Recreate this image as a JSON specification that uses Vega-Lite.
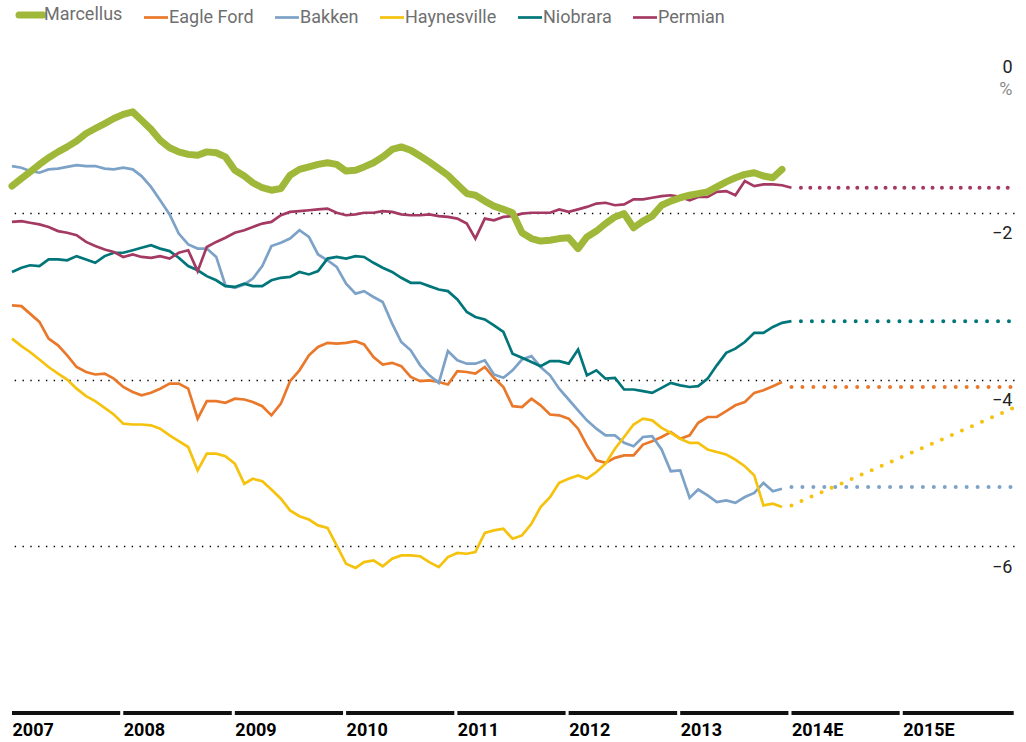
{
  "$schema": "https://vega.github.io/schema/vega-lite/v6.json",
  "width": 1002,
  "height": 667,
  "autosize": {"type": "none"},
  "padding": {"left": 12, "top": 46, "right": 12, "bottom": 29},
  "background": "white",
  "config": {
    "view": {"stroke": null},
    "font": "Roboto",
    "legend": {
      "orient": "none",
      "legendX": 10,
      "legendY": -40,
      "direction": "horizontal",
      "title": null,
      "padding": 0,
      "symbolType": "stroke",
      "symbolSize": 576,
      "labelFont": "Roboto",
      "labelFontSize": 18,
      "labelColor": "#6f6f6f",
      "labelOffset": 4,
      "columnPadding": 15
    }
  },
  "datasets": {
    "years": [
      {"start": "2007-01-01", "end": "2007-12-22"},
      {"start": "2008-01-01", "end": "2008-12-22"},
      {"start": "2009-01-01", "end": "2009-12-22"},
      {"start": "2010-01-01", "end": "2010-12-22"},
      {"start": "2011-01-01", "end": "2011-12-22"},
      {"start": "2012-01-01", "end": "2012-12-22"},
      {"start": "2013-01-01", "end": "2013-12-22"},
      {"start": "2014-01-01", "end": "2014-12-22"},
      {"start": "2015-01-01", "end": "2015-12-31"}
    ],
    "proj": [
      {"series": "Eagle Ford", "date": "2014-01-01", "value": -4.09},
      {"series": "Eagle Ford", "date": "2015-12-31", "value": -4.09},
      {"series": "Bakken", "date": "2014-01-01", "value": -5.29},
      {"series": "Bakken", "date": "2015-12-31", "value": -5.29},
      {"series": "Haynesville", "date": "2014-01-01", "value": -5.51},
      {"series": "Haynesville", "date": "2015-12-31", "value": -4.34},
      {"series": "Niobrara", "date": "2014-02-01", "value": -3.30},
      {"series": "Niobrara", "date": "2015-12-31", "value": -3.30},
      {"series": "Permian", "date": "2014-02-01", "value": -1.70},
      {"series": "Permian", "date": "2015-12-31", "value": -1.70}
    ],
    "main": [
      {"date": "2007-01-01", "Marcellus": -1.68, "Eagle Ford": -3.11, "Bakken": -1.44, "Haynesville": -3.51, "Niobrara": -2.71, "Permian": -2.11},
      {"date": "2007-02-01", "Marcellus": -1.59, "Eagle Ford": -3.12, "Bakken": -1.46, "Haynesville": -3.60, "Niobrara": -2.66, "Permian": -2.10},
      {"date": "2007-03-01", "Marcellus": -1.51, "Eagle Ford": -3.21, "Bakken": -1.50, "Haynesville": -3.67, "Niobrara": -2.63, "Permian": -2.12},
      {"date": "2007-04-01", "Marcellus": -1.42, "Eagle Ford": -3.31, "Bakken": -1.52, "Haynesville": -3.76, "Niobrara": -2.64, "Permian": -2.14},
      {"date": "2007-05-01", "Marcellus": -1.34, "Eagle Ford": -3.51, "Bakken": -1.48, "Haynesville": -3.85, "Niobrara": -2.56, "Permian": -2.17},
      {"date": "2007-06-01", "Marcellus": -1.27, "Eagle Ford": -3.59, "Bakken": -1.47, "Haynesville": -3.93, "Niobrara": -2.56, "Permian": -2.22},
      {"date": "2007-07-01", "Marcellus": -1.21, "Eagle Ford": -3.71, "Bakken": -1.45, "Haynesville": -4.00, "Niobrara": -2.57, "Permian": -2.24},
      {"date": "2007-08-01", "Marcellus": -1.14, "Eagle Ford": -3.85, "Bakken": -1.43, "Haynesville": -4.11, "Niobrara": -2.52, "Permian": -2.27},
      {"date": "2007-09-01", "Marcellus": -1.05, "Eagle Ford": -3.91, "Bakken": -1.44, "Haynesville": -4.20, "Niobrara": -2.56, "Permian": -2.35},
      {"date": "2007-10-01", "Marcellus": -0.99, "Eagle Ford": -3.94, "Bakken": -1.44, "Haynesville": -4.26, "Niobrara": -2.60, "Permian": -2.40},
      {"date": "2007-11-01", "Marcellus": -0.93, "Eagle Ford": -3.93, "Bakken": -1.47, "Haynesville": -4.34, "Niobrara": -2.52, "Permian": -2.44},
      {"date": "2007-12-01", "Marcellus": -0.87, "Eagle Ford": -3.99, "Bakken": -1.48, "Haynesville": -4.42, "Niobrara": -2.48, "Permian": -2.47},
      {"date": "2008-01-01", "Marcellus": -0.82, "Eagle Ford": -4.09, "Bakken": -1.46, "Haynesville": -4.53, "Niobrara": -2.48, "Permian": -2.53},
      {"date": "2008-02-01", "Marcellus": -0.79, "Eagle Ford": -4.15, "Bakken": -1.48, "Haynesville": -4.54, "Niobrara": -2.45, "Permian": -2.50},
      {"date": "2008-03-01", "Marcellus": -0.89, "Eagle Ford": -4.19, "Bakken": -1.56, "Haynesville": -4.54, "Niobrara": -2.42, "Permian": -2.53},
      {"date": "2008-04-01", "Marcellus": -1.00, "Eagle Ford": -4.16, "Bakken": -1.69, "Haynesville": -4.55, "Niobrara": -2.39, "Permian": -2.54},
      {"date": "2008-05-01", "Marcellus": -1.13, "Eagle Ford": -4.11, "Bakken": -1.85, "Haynesville": -4.59, "Niobrara": -2.43, "Permian": -2.52},
      {"date": "2008-06-01", "Marcellus": -1.22, "Eagle Ford": -4.05, "Bakken": -2.02, "Haynesville": -4.67, "Niobrara": -2.46, "Permian": -2.55},
      {"date": "2008-07-01", "Marcellus": -1.27, "Eagle Ford": -4.05, "Bakken": -2.25, "Haynesville": -4.74, "Niobrara": -2.54, "Permian": -2.48},
      {"date": "2008-08-01", "Marcellus": -1.30, "Eagle Ford": -4.11, "Bakken": -2.38, "Haynesville": -4.81, "Niobrara": -2.64, "Permian": -2.45},
      {"date": "2008-09-01", "Marcellus": -1.31, "Eagle Ford": -4.47, "Bakken": -2.43, "Haynesville": -5.09, "Niobrara": -2.69, "Permian": -2.70},
      {"date": "2008-10-01", "Marcellus": -1.27, "Eagle Ford": -4.26, "Bakken": -2.43, "Haynesville": -4.89, "Niobrara": -2.76, "Permian": -2.41},
      {"date": "2008-11-01", "Marcellus": -1.28, "Eagle Ford": -4.26, "Bakken": -2.53, "Haynesville": -4.89, "Niobrara": -2.81, "Permian": -2.35},
      {"date": "2008-12-01", "Marcellus": -1.33, "Eagle Ford": -4.28, "Bakken": -2.87, "Haynesville": -4.92, "Niobrara": -2.88, "Permian": -2.30},
      {"date": "2009-01-01", "Marcellus": -1.49, "Eagle Ford": -4.23, "Bakken": -2.90, "Haynesville": -5.01, "Niobrara": -2.89, "Permian": -2.24},
      {"date": "2009-02-01", "Marcellus": -1.56, "Eagle Ford": -4.24, "Bakken": -2.86, "Haynesville": -5.25, "Niobrara": -2.85, "Permian": -2.21},
      {"date": "2009-03-01", "Marcellus": -1.64, "Eagle Ford": -4.27, "Bakken": -2.79, "Haynesville": -5.19, "Niobrara": -2.88, "Permian": -2.17},
      {"date": "2009-04-01", "Marcellus": -1.70, "Eagle Ford": -4.32, "Bakken": -2.64, "Haynesville": -5.22, "Niobrara": -2.88, "Permian": -2.13},
      {"date": "2009-05-01", "Marcellus": -1.73, "Eagle Ford": -4.43, "Bakken": -2.40, "Haynesville": -5.32, "Niobrara": -2.81, "Permian": -2.11},
      {"date": "2009-06-01", "Marcellus": -1.71, "Eagle Ford": -4.29, "Bakken": -2.36, "Haynesville": -5.43, "Niobrara": -2.78, "Permian": -2.03},
      {"date": "2009-07-01", "Marcellus": -1.55, "Eagle Ford": -4.02, "Bakken": -2.31, "Haynesville": -5.57, "Niobrara": -2.77, "Permian": -1.99},
      {"date": "2009-08-01", "Marcellus": -1.48, "Eagle Ford": -3.89, "Bakken": -2.21, "Haynesville": -5.64, "Niobrara": -2.71, "Permian": -1.98},
      {"date": "2009-09-01", "Marcellus": -1.45, "Eagle Ford": -3.71, "Bakken": -2.29, "Haynesville": -5.68, "Niobrara": -2.74, "Permian": -1.97},
      {"date": "2009-10-01", "Marcellus": -1.42, "Eagle Ford": -3.61, "Bakken": -2.50, "Haynesville": -5.75, "Niobrara": -2.70, "Permian": -1.96},
      {"date": "2009-11-01", "Marcellus": -1.40, "Eagle Ford": -3.56, "Bakken": -2.57, "Haynesville": -5.78, "Niobrara": -2.55, "Permian": -1.95},
      {"date": "2009-12-01", "Marcellus": -1.42, "Eagle Ford": -3.57, "Bakken": -2.65, "Haynesville": -5.99, "Niobrara": -2.53, "Permian": -2.00},
      {"date": "2010-01-01", "Marcellus": -1.50, "Eagle Ford": -3.56, "Bakken": -2.85, "Haynesville": -6.21, "Niobrara": -2.55, "Permian": -2.03},
      {"date": "2010-02-01", "Marcellus": -1.49, "Eagle Ford": -3.54, "Bakken": -2.97, "Haynesville": -6.26, "Niobrara": -2.52, "Permian": -2.02},
      {"date": "2010-03-01", "Marcellus": -1.45, "Eagle Ford": -3.58, "Bakken": -2.94, "Haynesville": -6.19, "Niobrara": -2.53, "Permian": -2.00},
      {"date": "2010-04-01", "Marcellus": -1.40, "Eagle Ford": -3.73, "Bakken": -3.01, "Haynesville": -6.17, "Niobrara": -2.60, "Permian": -2.00},
      {"date": "2010-05-01", "Marcellus": -1.33, "Eagle Ford": -3.82, "Bakken": -3.07, "Haynesville": -6.24, "Niobrara": -2.66, "Permian": -1.98},
      {"date": "2010-06-01", "Marcellus": -1.24, "Eagle Ford": -3.80, "Bakken": -3.33, "Haynesville": -6.15, "Niobrara": -2.71, "Permian": -1.99},
      {"date": "2010-07-01", "Marcellus": -1.21, "Eagle Ford": -3.84, "Bakken": -3.55, "Haynesville": -6.11, "Niobrara": -2.78, "Permian": -2.02},
      {"date": "2010-08-01", "Marcellus": -1.25, "Eagle Ford": -3.97, "Bakken": -3.65, "Haynesville": -6.11, "Niobrara": -2.84, "Permian": -2.03},
      {"date": "2010-09-01", "Marcellus": -1.32, "Eagle Ford": -4.02, "Bakken": -3.83, "Haynesville": -6.12, "Niobrara": -2.84, "Permian": -2.03},
      {"date": "2010-10-01", "Marcellus": -1.39, "Eagle Ford": -4.01, "Bakken": -3.95, "Haynesville": -6.19, "Niobrara": -2.88, "Permian": -2.02},
      {"date": "2010-11-01", "Marcellus": -1.47, "Eagle Ford": -4.03, "Bakken": -4.04, "Haynesville": -6.25, "Niobrara": -2.92, "Permian": -2.04},
      {"date": "2010-12-01", "Marcellus": -1.55, "Eagle Ford": -4.06, "Bakken": -3.66, "Haynesville": -6.13, "Niobrara": -2.94, "Permian": -2.05},
      {"date": "2011-01-01", "Marcellus": -1.66, "Eagle Ford": -3.90, "Bakken": -3.77, "Haynesville": -6.08, "Niobrara": -3.04, "Permian": -2.07},
      {"date": "2011-02-01", "Marcellus": -1.77, "Eagle Ford": -3.91, "Bakken": -3.81, "Haynesville": -6.09, "Niobrara": -3.19, "Permian": -2.13},
      {"date": "2011-03-01", "Marcellus": -1.79, "Eagle Ford": -3.93, "Bakken": -3.81, "Haynesville": -6.07, "Niobrara": -3.25, "Permian": -2.31},
      {"date": "2011-04-01", "Marcellus": -1.86, "Eagle Ford": -3.85, "Bakken": -3.77, "Haynesville": -5.84, "Niobrara": -3.28, "Permian": -2.07},
      {"date": "2011-05-01", "Marcellus": -1.92, "Eagle Ford": -3.98, "Bakken": -3.94, "Haynesville": -5.81, "Niobrara": -3.35, "Permian": -2.09},
      {"date": "2011-06-01", "Marcellus": -1.96, "Eagle Ford": -4.09, "Bakken": -3.98, "Haynesville": -5.79, "Niobrara": -3.43, "Permian": -2.05},
      {"date": "2011-07-01", "Marcellus": -2.00, "Eagle Ford": -4.32, "Bakken": -3.89, "Haynesville": -5.91, "Niobrara": -3.69, "Permian": -2.04},
      {"date": "2011-08-01", "Marcellus": -2.24, "Eagle Ford": -4.33, "Bakken": -3.76, "Haynesville": -5.87, "Niobrara": -3.74, "Permian": -2.01},
      {"date": "2011-09-01", "Marcellus": -2.31, "Eagle Ford": -4.23, "Bakken": -3.72, "Haynesville": -5.73, "Niobrara": -3.79, "Permian": -2.00},
      {"date": "2011-10-01", "Marcellus": -2.34, "Eagle Ford": -4.31, "Bakken": -3.85, "Haynesville": -5.53, "Niobrara": -3.84, "Permian": -2.00},
      {"date": "2011-11-01", "Marcellus": -2.33, "Eagle Ford": -4.42, "Bakken": -3.95, "Haynesville": -5.41, "Niobrara": -3.78, "Permian": -2.00},
      {"date": "2011-12-01", "Marcellus": -2.31, "Eagle Ford": -4.43, "Bakken": -4.11, "Haynesville": -5.24, "Niobrara": -3.78, "Permian": -1.96},
      {"date": "2012-01-01", "Marcellus": -2.30, "Eagle Ford": -4.47, "Bakken": -4.24, "Haynesville": -5.19, "Niobrara": -3.81, "Permian": -1.99},
      {"date": "2012-02-01", "Marcellus": -2.43, "Eagle Ford": -4.59, "Bakken": -4.37, "Haynesville": -5.15, "Niobrara": -3.64, "Permian": -1.96},
      {"date": "2012-03-01", "Marcellus": -2.29, "Eagle Ford": -4.79, "Bakken": -4.49, "Haynesville": -5.19, "Niobrara": -3.95, "Permian": -1.93},
      {"date": "2012-04-01", "Marcellus": -2.22, "Eagle Ford": -4.97, "Bakken": -4.59, "Haynesville": -5.11, "Niobrara": -3.89, "Permian": -1.89},
      {"date": "2012-05-01", "Marcellus": -2.13, "Eagle Ford": -5.00, "Bakken": -4.67, "Haynesville": -5.01, "Niobrara": -3.99, "Permian": -1.88},
      {"date": "2012-06-01", "Marcellus": -2.05, "Eagle Ford": -4.94, "Bakken": -4.67, "Haynesville": -4.83, "Niobrara": -3.98, "Permian": -1.91},
      {"date": "2012-07-01", "Marcellus": -2.01, "Eagle Ford": -4.91, "Bakken": -4.76, "Haynesville": -4.69, "Niobrara": -4.12, "Permian": -1.90},
      {"date": "2012-08-01", "Marcellus": -2.18, "Eagle Ford": -4.91, "Bakken": -4.80, "Haynesville": -4.54, "Niobrara": -4.12, "Permian": -1.84},
      {"date": "2012-09-01", "Marcellus": -2.10, "Eagle Ford": -4.78, "Bakken": -4.69, "Haynesville": -4.47, "Niobrara": -4.14, "Permian": -1.84},
      {"date": "2012-10-01", "Marcellus": -2.04, "Eagle Ford": -4.74, "Bakken": -4.68, "Haynesville": -4.49, "Niobrara": -4.16, "Permian": -1.82},
      {"date": "2012-11-01", "Marcellus": -1.91, "Eagle Ford": -4.69, "Bakken": -4.84, "Haynesville": -4.58, "Niobrara": -4.10, "Permian": -1.80},
      {"date": "2012-12-01", "Marcellus": -1.86, "Eagle Ford": -4.63, "Bakken": -5.10, "Haynesville": -4.64, "Niobrara": -4.04, "Permian": -1.79},
      {"date": "2013-01-01", "Marcellus": -1.82, "Eagle Ford": -4.71, "Bakken": -5.09, "Haynesville": -4.71, "Niobrara": -4.07, "Permian": -1.81},
      {"date": "2013-02-01", "Marcellus": -1.79, "Eagle Ford": -4.67, "Bakken": -5.42, "Haynesville": -4.76, "Niobrara": -4.09, "Permian": -1.85},
      {"date": "2013-03-01", "Marcellus": -1.77, "Eagle Ford": -4.52, "Bakken": -5.32, "Haynesville": -4.76, "Niobrara": -4.08, "Permian": -1.81},
      {"date": "2013-04-01", "Marcellus": -1.75, "Eagle Ford": -4.45, "Bakken": -5.39, "Haynesville": -4.84, "Niobrara": -3.99, "Permian": -1.81},
      {"date": "2013-05-01", "Marcellus": -1.69, "Eagle Ford": -4.45, "Bakken": -5.47, "Haynesville": -4.87, "Niobrara": -3.83, "Permian": -1.75},
      {"date": "2013-06-01", "Marcellus": -1.63, "Eagle Ford": -4.38, "Bakken": -5.45, "Haynesville": -4.90, "Niobrara": -3.68, "Permian": -1.74},
      {"date": "2013-07-01", "Marcellus": -1.58, "Eagle Ford": -4.31, "Bakken": -5.48, "Haynesville": -4.96, "Niobrara": -3.63, "Permian": -1.79},
      {"date": "2013-08-01", "Marcellus": -1.54, "Eagle Ford": -4.27, "Bakken": -5.41, "Haynesville": -5.04, "Niobrara": -3.55, "Permian": -1.62},
      {"date": "2013-09-01", "Marcellus": -1.52, "Eagle Ford": -4.16, "Bakken": -5.36, "Haynesville": -5.15, "Niobrara": -3.44, "Permian": -1.68},
      {"date": "2013-10-01", "Marcellus": -1.56, "Eagle Ford": -4.13, "Bakken": -5.24, "Haynesville": -5.51, "Niobrara": -3.44, "Permian": -1.66},
      {"date": "2013-11-01", "Marcellus": -1.58, "Eagle Ford": -4.08, "Bakken": -5.34, "Haynesville": -5.49, "Niobrara": -3.37, "Permian": -1.66},
      {"date": "2013-12-01", "Marcellus": -1.48, "Eagle Ford": -4.03, "Bakken": -5.31, "Haynesville": -5.53, "Niobrara": -3.32, "Permian": -1.67},
      {"date": "2014-01-01", "Niobrara": -3.30, "Permian": -1.70}
    ]
  },
  "layer": [
    {
      "data": {"name": "years"},
      "mark": {"type": "rule", "strokeWidth": 4, "color": "#111111", "strokeCap": "butt"},
      "encoding": {
        "x": {
          "field": "start",
          "type": "temporal",
          "scale": {"domain": ["2007-01-01", "2016-01-01"]},
          "axis": {
            "values": ["2007-01-01", "2008-01-01", "2009-01-01", "2010-01-01", "2011-01-01", "2012-01-01", "2013-01-01", "2014-01-01", "2015-01-01"],
            "format": "%Y",
            "labelExpr": "year(datum.value) >= 2014 ? datum.label + 'E' : datum.label",
            "labelAlign": "left",
            "labelBaseline": "top",
            "labelPadding": 8,
            "labelFont": "Roboto",
            "labelFontSize": 18,
            "labelFontWeight": "bold",
            "labelColor": "#000000",
            "labelFlush": false,
            "labelOverlap": false,
            "domain": false,
            "ticks": false,
            "grid": false,
            "title": null
          }
        },
        "x2": {"field": "end"},
        "y": {
          "datum": -8,
          "type": "quantitative",
          "scale": {"domain": [-8, 0], "nice": false, "zero": false},
          "axis": {
            "orient": "right",
            "values": [0, -2, -4, -6],
            "format": "d",
            "title": "%",
            "titleAngle": 0,
            "titleAlign": "right",
            "titleBaseline": "top",
            "titleX": -2,
            "titleY": 34,
            "titleColor": "#8a8a8a",
            "titleFont": "Roboto",
            "titleFontSize": 18,
            "titleFontWeight": "normal",
            "domain": false,
            "ticks": false,
            "labelAlign": "right",
            "labelBaseline": "top",
            "labelPadding": -2,
            "labelOffset": 12,
            "labelFont": "Roboto",
            "labelFontSize": 18,
            "labelColor": "#222222",
            "grid": true,
            "gridColor": "#000000",
            "gridWidth": 1.4,
            "gridDash": [1.4, 6.4],
            "gridOpacity": {"condition": {"test": "datum.value === 0", "value": 0}, "value": 1}
          }
        }
      }
    },
    {
      "data": {"name": "proj"},
      "transform": [{"filter": "datum.series !== 'Permian'"}],
      "mark": {"type": "line", "strokeWidth": 4, "strokeCap": "round", "strokeDash": [0, 10.95]},
      "encoding": {
        "x": {"field": "date", "type": "temporal"},
        "y": {"field": "value", "type": "quantitative"},
        "color": {
          "field": "series",
          "type": "nominal",
          "scale": {
            "domain": ["Marcellus", "Eagle Ford", "Bakken", "Haynesville", "Niobrara", "Permian"],
            "range": ["#a0b83a", "#e9782a", "#7da2c8", "#f5c20e", "#00767a", "#a43a63"]
          },
          "legend": {
            "encode": {
              "symbols": {
                "update": {
                  "strokeWidth": {"signal": "datum.value === 'Marcellus' ? 7 : 2.7"},
                  "strokeCap": {"signal": "datum.value === 'Marcellus' ? 'round' : 'butt'"}
                }
              }
            }
          }
        }
      }
    },
    {
      "data": {"name": "proj"},
      "transform": [{"filter": "datum.series === 'Permian'"}],
      "mark": {"type": "line", "strokeWidth": 4, "strokeCap": "round", "strokeDash": [0, 9.4]},
      "encoding": {
        "x": {"field": "date", "type": "temporal"},
        "y": {"field": "value", "type": "quantitative"},
        "color": {"field": "series", "type": "nominal"}
      }
    },
    {
      "data": {"name": "main"},
      "transform": [
        {"fold": ["Eagle Ford", "Bakken", "Haynesville", "Niobrara", "Permian"], "as": ["series", "value"]},
        {"filter": "isValid(datum.value)"}
      ],
      "mark": {"type": "line", "strokeWidth": 2.7},
      "encoding": {
        "x": {"field": "date", "type": "temporal"},
        "y": {"field": "value", "type": "quantitative"},
        "color": {"field": "series", "type": "nominal"}
      }
    },
    {
      "data": {"name": "main"},
      "transform": [
        {"fold": ["Marcellus"], "as": ["series", "value"]},
        {"filter": "isValid(datum.value)"}
      ],
      "mark": {"type": "line", "strokeWidth": 7, "strokeCap": "round", "strokeJoin": "round"},
      "encoding": {
        "x": {"field": "date", "type": "temporal"},
        "y": {"field": "value", "type": "quantitative"},
        "color": {"field": "series", "type": "nominal"}
      }
    }
  ]
}
